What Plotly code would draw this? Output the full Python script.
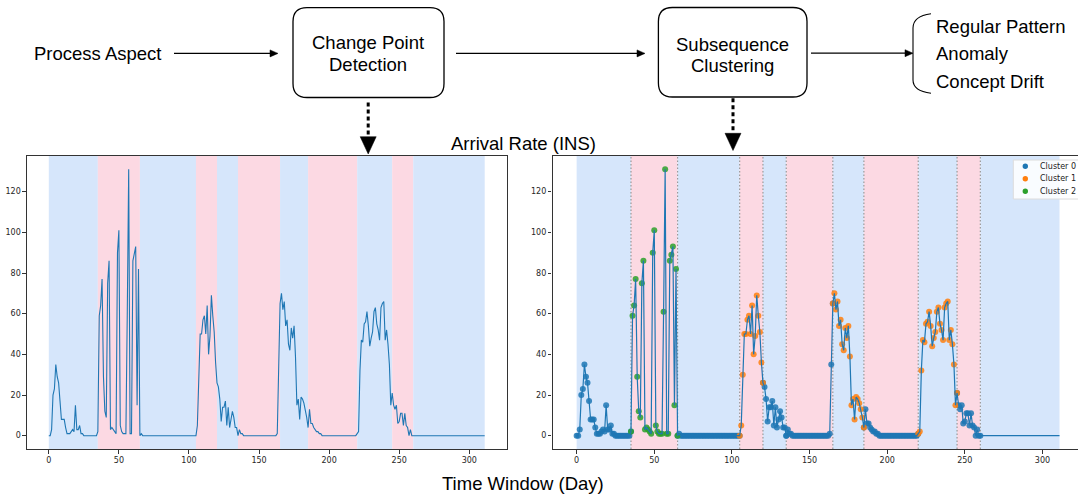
import plotly.graph_objects as go

W, H = 1078, 498

# ---------------- data ----------------
DAYS = list(range(0, 312))
ARRIVAL_RATE = (
    # 0-34
    [0, 0, 3, 20, 23, 35, 29, 26, 17, 8, 8, 8, 4, 1, 1, 1, 2, 3, 2, 15, 3, 3, 5, 1, 1,
     0, 0, 0, 0, 0, 0, 0, 0, 0, 0]
    # 35-65
    + [2, 59, 64, 77, 29, 12, 9, 75, 86, 3, 4, 3, 2, 1, 90, 101, 5, 2, 1, 1, 1, 61, 131,
       1, 1, 86, 89, 93, 15, 82, 0]
    # 66-104
    + [1, 0, 0, 0, 0, 0, 0, 0, 0, 0, 0, 0, 0, 0, 0, 0, 0, 0, 0, 0, 0, 0, 0, 0, 0, 0, 0,
       0, 0, 0, 0, 0, 0, 0, 0, 0, 0, 0, 0]
    # 105-120
    + [0, 5, 30, 50, 50, 57, 59, 50, 64, 40, 49, 69, 59, 51, 36, 26]
    # 121-138
    + [24, 18, 7, 14, 14, 17, 5, 14, 4, 8, 12, 9, 4, 4, 0, 3, 1, 1]
    # 139-163
    + [0, 0, 0, 0, 0, 0, 0, 0, 0, 0, 0, 0, 0, 0, 0, 0, 0, 0, 0, 0, 0, 0, 0, 0, 1]
    # 164-194
    + [35, 65, 70, 62, 66, 54, 57, 45, 42, 53, 48, 54, 39, 15, 18, 8, 19, 18, 16, 13,
       9, 4, 13, 6, 6, 4, 3, 2, 2, 1, 1]
    # 195-219
    + [0, 0, 0, 0, 0, 0, 0, 0, 0, 0, 0, 0, 0, 0, 0, 0, 0, 0, 0, 0, 0, 0, 0, 0, 0]
    # 220-259
    + [1, 2, 32, 47, 46, 55, 56, 61, 54, 44, 48, 51, 61, 63, 55, 52, 47, 63, 65, 66,
       47, 52, 45, 35, 15, 21, 15, 13, 15, 6, 7, 11, 11, 5, 11, 5, 4, 0, 3, 0]
    # 260-311
    + [0, 0, 0, 0, 0, 0, 0, 0, 0, 0, 0, 0, 0, 0, 0, 0, 0, 0, 0, 0, 0, 0, 0, 0, 0, 0,
       0, 0, 0, 0, 0, 0, 0, 0, 0, 0, 0, 0, 0, 0, 0, 0, 0, 0, 0, 0, 0, 0, 0, 0, 0, 0]
)
CHANGE_POINTS = [0, 35, 65, 105, 120, 135, 165, 185, 220, 245, 260, 311]
BAND_KIND = ["blue", "pink", "blue", "pink", "blue", "pink", "blue", "pink", "blue", "pink", "blue"]
SEGMENT_CLUSTER = [0, 2, 0, 1, 0, 0, 1, 0, 1, 0, None]
CLUSTER_NAMES = ["Cluster 0", "Cluster 1", "Cluster 2"]
X_TICKS = [0, 50, 100, 150, 200, 250, 300]
Y_TICKS = [0, 20, 40, 60, 80, 100, 120]

# ---------------- styles ----------------
BAND_COLORS = {"blue": "rgb(214,230,251)", "pink": "rgb(252,217,227)"}
CLUSTER_COLORS = ["#1f77b4", "#ff7f0e", "#2ca02c"]
LINE_COLOR = "#1f77b4"
FRAME = "#333333"
TXT = "Liberation Sans, Arial, sans-serif"
MPL = "DejaVu Sans, sans-serif"


def px(x):
    return x / W


def py(y):
    return 1 - y / H


fig = go.Figure()

# left panel line
fig.add_trace(go.Scatter(x=DAYS, y=ARRIVAL_RATE, mode="lines",
                         line=dict(color=LINE_COLOR, width=1.1),
                         xaxis="x", yaxis="y", showlegend=False, hoverinfo="skip"))

# right panel cluster markers
for c in range(3):
    xs, ys = [], []
    for s, cl in enumerate(SEGMENT_CLUSTER):
        if cl != c:
            continue
        for d in range(CHANGE_POINTS[s], CHANGE_POINTS[s + 1] + 1):
            xs.append(DAYS[d])
            ys.append(ARRIVAL_RATE[d])
    fig.add_trace(go.Scatter(x=xs, y=ys, mode="markers", name=CLUSTER_NAMES[c],
                             marker=dict(color=CLUSTER_COLORS[c], size=6, opacity=0.85,
                                         line=dict(width=0)),
                             xaxis="x2", yaxis="y2", showlegend=False))

fig.add_trace(go.Scatter(x=DAYS, y=ARRIVAL_RATE, mode="lines",
                         line=dict(color=LINE_COLOR, width=1.2),
                         xaxis="x2", yaxis="y2", showlegend=False, hoverinfo="skip"))

shapes = []
# bands
for ax, yax in (("x", "y"), ("x2", "y2")):
    for i, kind in enumerate(BAND_KIND):
        shapes.append(dict(type="rect", xref=ax, yref=yax + " domain",
                           x0=CHANGE_POINTS[i], x1=CHANGE_POINTS[i + 1], y0=0, y1=1,
                           fillcolor=BAND_COLORS[kind], line=dict(width=0), layer="below"))
# dotted change-point lines on right panel
for cp in CHANGE_POINTS[1:-1]:
    shapes.append(dict(type="line", xref="x2", yref="y2 domain", x0=cp, x1=cp, y0=0, y1=1,
                       line=dict(color="#999999", width=1.2, dash="1.5px,2px"), layer="below"))


def hline_arrow(x0, x1, y, head=8, half=3.5, width=1.3):
    shapes.append(dict(type="line", xref="paper", yref="paper",
                       x0=px(x0), x1=px(x1 - head + 1), y0=py(y), y1=py(y),
                       line=dict(color="black", width=width)))
    shapes.append(dict(type="path", xref="paper", yref="paper",
                       path=f"M {px(x1)},{py(y)} L {px(x1 - head)},{py(y - half)} "
                            f"L {px(x1 - head)},{py(y + half)} Z",
                       fillcolor="black", line=dict(color="black", width=0.5)))


def rounded_box(x0, y0, x1, y1, r=14):
    p = (f"M {px(x0 + r)},{py(y0)} L {px(x1 - r)},{py(y0)} "
         f"Q {px(x1)},{py(y0)} {px(x1)},{py(y0 + r)} "
         f"L {px(x1)},{py(y1 - r)} Q {px(x1)},{py(y1)} {px(x1 - r)},{py(y1)} "
         f"L {px(x0 + r)},{py(y1)} Q {px(x0)},{py(y1)} {px(x0)},{py(y1 - r)} "
         f"L {px(x0)},{py(y0 + r)} Q {px(x0)},{py(y0)} {px(x0 + r)},{py(y0)} Z")
    shapes.append(dict(type="path", xref="paper", yref="paper", path=p,
                       line=dict(color="black", width=1.3)))


def dashed_down_arrow(x, y0, y1, tip, half=8):
    shapes.append(dict(type="line", xref="paper", yref="paper",
                       x0=px(x), x1=px(x), y0=py(y0), y1=py(y1),
                       line=dict(color="black", width=3, dash="4px,3px")))
    shapes.append(dict(type="path", xref="paper", yref="paper",
                       path=f"M {px(x - half)},{py(y1)} L {px(x + half)},{py(y1)} "
                            f"L {px(x)},{py(tip)} Z",
                       fillcolor="black", line=dict(color="black", width=0.5)))


hline_arrow(174, 278, 53.4)
rounded_box(293, 7.6, 444, 97.5)
hline_arrow(456, 645, 53.4)
rounded_box(658.4, 7.5, 807, 97)
hline_arrow(811, 913, 53.2)
# bracket
shapes.append(dict(type="path", xref="paper", yref="paper",
                   path=f"M {px(931)},{py(13.7)} Q {px(913)},{py(16)} {px(913)},{py(28)} "
                        f"L {px(913)},{py(80)} Q {px(913)},{py(91)} {px(931)},{py(93.3)}",
                   line=dict(color="black", width=1.1)))
dashed_down_arrow(368.2, 102.5, 136.7, 154)
dashed_down_arrow(733, 98.3, 133.3, 150.5)

# manual legend (top-right of right panel)
shapes.append(dict(type="rect", xref="paper", yref="paper",
                   x0=px(1013.3), x1=px(1095), y0=py(160), y1=py(199),
                   fillcolor="rgba(255,255,255,0.85)", line=dict(color="#dcdcdc", width=1)))
LEG_Y = [166.3, 178.7, 191.2]
for c in range(3):
    shapes.append(dict(type="circle", xref="paper", yref="paper",
                       x0=px(1025.3 - 2.7), x1=px(1025.3 + 2.7),
                       y0=py(LEG_Y[c] - 2.7), y1=py(LEG_Y[c] + 2.7),
                       fillcolor=CLUSTER_COLORS[c], line=dict(width=0)))

annotations = []


def txt(t, x, y, size=18.5, xanchor="center", family=TXT, color="black"):
    annotations.append(dict(text=t, x=px(x), y=py(y), xref="paper", yref="paper",
                            showarrow=False, xanchor=xanchor, yanchor="middle",
                            font=dict(family=family, size=size, color=color)))


txt("Process Aspect", 97.6, 53.4)
txt("Change Point", 368.4, 43)
txt("Detection", 368.4, 64)
txt("Subsequence", 732.7, 44.6)
txt("Clustering", 732.7, 65)
txt("Regular Pattern", 934, 26.8, xanchor="left")
txt("Anomaly", 934, 53.2, xanchor="left")
txt("Concept Drift", 934, 81.7, xanchor="left")
txt("Arrival Rate (INS)", 523, 143)
txt("Time Window (Day)", 523, 483)
for c in range(3):
    txt(CLUSTER_NAMES[c], 1038, LEG_Y[c], size=8, xanchor="left", family=MPL, color="#222")

ydom = [py(449), py(156)]
axis_common = dict(showgrid=False, zeroline=False, showline=True, linecolor=FRAME,
                   linewidth=1.2, ticks="outside", ticklen=3.5, tickcolor=FRAME,
                   tickwidth=1, tickfont=dict(family=MPL, size=8, color="#262626"))

fig.update_layout(
    width=W, height=H, margin=dict(l=0, r=0, t=0, b=0),
    paper_bgcolor="white", plot_bgcolor="white", showlegend=False,
    xaxis=dict(domain=[px(27), px(506.5)], range=[-15.55, 326.55], tickvals=X_TICKS,
               mirror=True, anchor="y", **axis_common),
    yaxis=dict(domain=ydom, range=[-6.55, 137.55], tickvals=Y_TICKS, mirror=True,
               anchor="x", **axis_common),
    xaxis2=dict(domain=[px(552.5), 1.0], range=[-15.55, 322.9], tickvals=X_TICKS,
                mirror=True, anchor="y2", **axis_common),
    yaxis2=dict(domain=ydom, range=[-6.55, 137.55], tickvals=Y_TICKS, mirror=False,
                anchor="x2", **axis_common),
    shapes=shapes, annotations=annotations,
)

fig.write_html("out.html",
               config={"displayModeBar": False},
               post_script="document.body.style.margin='0';"
                           "document.body.style.overflow='hidden';")
